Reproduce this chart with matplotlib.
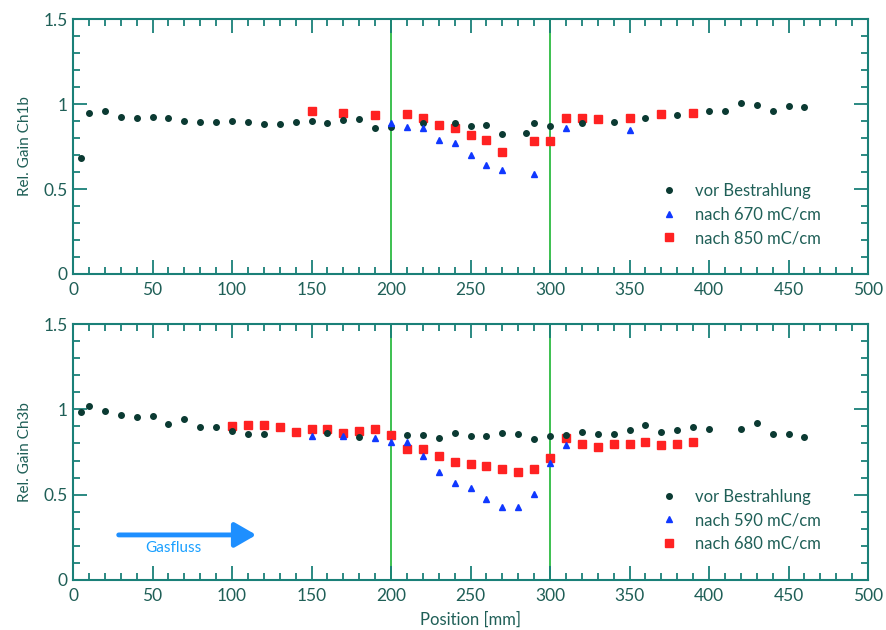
import numpy as np
import matplotlib
matplotlib.use('Agg')
import matplotlib.pyplot as plt
from matplotlib.ticker import MultipleLocator

plt.rcParams['font.family'] = ['Lato', 'DejaVu Sans']

# --- Ch1b (top) ---
x_vor_1 = [5, 10, 20, 30, 40, 50, 60, 70, 80, 90, 100, 110, 120, 130, 140, 150, 160, 170, 180, 190,
           200, 220, 240, 250, 260, 270, 285, 290, 300, 320, 340, 360, 380, 400, 410, 420, 430, 440, 450, 460]
y_vor_1 = [0.68, 0.95, 0.96, 0.925, 0.92, 0.925, 0.915, 0.90, 0.895, 0.895, 0.90, 0.895, 0.88, 0.885, 0.895,
           0.90, 0.89, 0.905, 0.91, 0.86, 0.867, 0.886, 0.89, 0.87, 0.876, 0.824, 0.827, 0.886, 0.87, 0.886,
           0.896, 0.916, 0.935, 0.96, 0.96, 1.004, 0.994, 0.96, 0.99, 0.98]

x_670 = [200, 210, 220, 230, 240, 250, 260, 270, 290, 310, 350]
y_670 = [0.886, 0.866, 0.857, 0.79, 0.77, 0.70, 0.64, 0.61, 0.586, 0.857, 0.847]

x_850 = [150, 170, 190, 210, 220, 230, 240, 250, 260, 270, 290, 300, 310, 320, 330, 350, 370, 390]
y_850 = [0.96, 0.95, 0.935, 0.94, 0.916, 0.876, 0.857, 0.82, 0.79, 0.72, 0.785, 0.785, 0.916, 0.92,
         0.91, 0.916, 0.94, 0.945]

# --- Ch3b (bottom) ---
x_vor_3 = [5, 10, 20, 30, 40, 50, 60, 70, 80, 90, 100, 110, 120, 160, 180, 210, 220, 230, 240, 250,
           260, 270, 280, 290, 300, 310, 320, 330, 340, 350, 360, 370, 380, 390, 400, 420, 430, 440, 450, 460]
y_vor_3 = [0.986, 1.02, 0.99, 0.967, 0.957, 0.96, 0.914, 0.943, 0.894, 0.894, 0.875, 0.853, 0.857, 0.863,
           0.84, 0.85, 0.85, 0.83, 0.859, 0.844, 0.844, 0.863, 0.855, 0.824, 0.844, 0.85, 0.869, 0.853,
           0.857, 0.879, 0.908, 0.865, 0.879, 0.898, 0.885, 0.885, 0.92, 0.853, 0.853, 0.84]

x_590 = [150, 170, 190, 200, 210, 220, 230, 240, 250, 260, 270, 280, 290, 300, 310]
y_590 = [0.845, 0.843, 0.83, 0.81, 0.81, 0.726, 0.634, 0.57, 0.537, 0.473, 0.43, 0.426, 0.504, 0.684, 0.79]

x_680 = [100, 110, 120, 130, 140, 150, 160, 170, 180, 190, 200, 210, 220, 230, 240, 250, 260, 270, 280,
         290, 300, 310, 320, 330, 340, 350, 360, 370, 380, 390]
y_680 = [0.902, 0.908, 0.908, 0.898, 0.869, 0.883, 0.883, 0.863, 0.873, 0.885, 0.85, 0.767, 0.766, 0.724,
         0.693, 0.68, 0.668, 0.648, 0.635, 0.65, 0.713, 0.83, 0.797, 0.78, 0.797, 0.797, 0.81, 0.79,
         0.797, 0.81]

teal = '#1a8078'
txt = '#1f5f57'
c_vor = '#0b3a32'
c_blue = '#1038ff'
c_red = '#ff2222'


def style_axes(ax, ylabel):
    ax.set_xlim(0, 500)
    ax.set_ylim(0, 1.5)
    ax.xaxis.set_major_locator(MultipleLocator(50))
    ax.xaxis.set_minor_locator(MultipleLocator(10))
    ax.yaxis.set_minor_locator(MultipleLocator(0.1))
    ax.set_yticks([0, 0.5, 1, 1.5])
    ax.set_yticklabels(['0', '0.5', '1', '1.5'])
    ax.tick_params(which='both', direction='in', top=True, right=True,
                   color=teal, labelcolor=txt, labelsize=12.5, width=1.3)
    ax.tick_params(which='major', length=10)
    ax.tick_params(axis='x', which='major', pad=6)
    ax.tick_params(axis='y', which='major', pad=4)
    ax.tick_params(which='minor', length=5)
    for s in ax.spines.values():
        s.set_color(teal)
        s.set_linewidth(1.5)
    ax.set_ylabel(ylabel, color=txt, fontsize=11, labelpad=8)
    ax.axvline(200, color='#3cc050', lw=1.4, zorder=1)
    ax.axvline(300, color='#3cc050', lw=1.4, zorder=1)


fig = plt.figure(figsize=(8.87, 6.3), dpi=100)
ax1 = fig.add_axes([0.0823, 0.5651, 0.8963, 0.4047])
ax2 = fig.add_axes([0.0823, 0.0794, 0.8963, 0.4063])

ax1.plot(x_vor_1, y_vor_1, 'o', color=c_vor, ms=4, label='vor Bestrahlung', zorder=3)
ax1.plot(x_850, y_850, 's', color=c_red, ms=5.5, label='nach 850 mC/cm', zorder=2)
ax1.plot(x_670, y_670, '^', color=c_blue, ms=5, label='nach 670 mC/cm', zorder=4)
style_axes(ax1, 'Rel. Gain Ch1b')

ax2.plot(x_vor_3, y_vor_3, 'o', color=c_vor, ms=4, label='vor Bestrahlung', zorder=3)
ax2.plot(x_680, y_680, 's', color=c_red, ms=5.5, label='nach 680 mC/cm', zorder=2)
ax2.plot(x_590, y_590, '^', color=c_blue, ms=5, label='nach 590 mC/cm', zorder=4)
style_axes(ax2, 'Rel. Gain Ch3b')
ax2.set_xlabel('Position [mm]', color=txt, fontsize=12, labelpad=5)

for ax in (ax1, ax2):
    h, l = ax.get_legend_handles_labels()
    order = [0, 2, 1]
    ax.legend([h[i] for i in order], [l[i] for i in order], loc='upper left',
              bbox_to_anchor=(0.72, 0.415), frameon=False, fontsize=12,
              handlelength=1.0, handletextpad=1.1, labelspacing=0.45,
              labelcolor=txt)

ax2.annotate('', xy=(117, 0.264), xytext=(27, 0.264),
             arrowprops=dict(arrowstyle='-|>,head_length=1.3,head_width=0.75',
                             color='#1e8fff', lw=3.5))
ax2.text(63, 0.19, 'Gasfluss', color='#1aa0ff', fontsize=11, ha='center', va='center')

fig.savefig('out.png', dpi=100)
